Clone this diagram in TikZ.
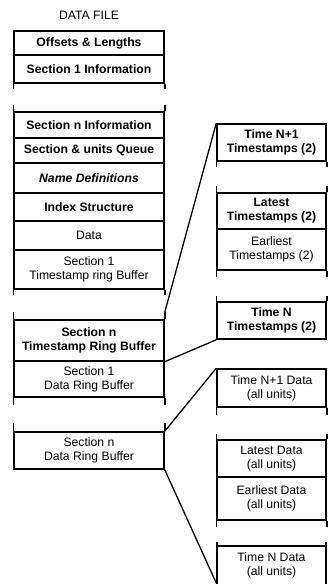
\documentclass[tikz,border=0pt]{standalone}
\usepackage{fontspec}
\setmainfont{Liberation Sans}
\usetikzlibrary{calc}
\begin{document}
\begin{tikzpicture}[x=1pt,y=-1pt,
  every node/.style={font=\fontsize{12.2}{14}\selectfont},
  lbox/.style={draw,line width=1.5pt,minimum width=150pt,inner sep=0pt,align=center},
  rbox/.style={draw,line width=1.5pt,minimum width=109pt,inner sep=0pt,align=center},
  heavy/.style={font=\fontsize{12.2}{14}\selectfont\bfseries},
  tick/.style={line width=1.5pt},
  link/.style={line width=1.3pt}]
\useasboundingbox (0,0) rectangle (331,584);
% title
\node (title) at (89,15) {DATA FILE};
% left column
\node[lbox,heavy,minimum height=24pt] (off)  at (89,43)    {Offsets \& Lengths};
\node[lbox,heavy,minimum height=28pt] (s1i)  at (89,69)    {Section 1 Information};
\node[lbox,heavy,minimum height=26pt] (sni)  at (89,125)   {Section n Information};
\node[lbox,heavy,minimum height=25pt] (suq)  at (89,150.5) {Section \& units Queue};
\node[lbox,minimum height=30pt,font=\fontsize{12.2}{14}\selectfont\bfseries\itshape] (nd) at (89,178) {Name Definitions};
\node[lbox,heavy,minimum height=28pt] (idx)  at (89,207)   {Index Structure};
\node[lbox,minimum height=29pt]       (dat)  at (89,235.5) {Data};
\node[lbox,minimum height=39pt]       (s1ts) at (89,269.5) {Section 1\\Timestamp ring Buffer};
\node[lbox,heavy,minimum height=41pt] (snts) at (89,340.5) {Section n\\Timestamp Ring Buffer};
\node[lbox,minimum height=36pt]       (s1d)  at (89,379)   {Section 1\\Data Ring Buffer};
\node[lbox,minimum height=37pt]       (snd)  at (89,450.5) {Section n\\Data Ring Buffer};
% left gap ticks
\draw[tick] (s1i.south west) -- ++(0,5);
\draw[tick] (s1i.south east) -- ++(0,5);
\draw[tick] (sni.north west) -- ++(0,-6);
\draw[tick] (sni.north east) -- ++(0,-6);
\draw[tick] (s1ts.south west) -- ++(0,5);
\draw[tick] (s1ts.south east) -- ++(0,5);
\draw[tick] (snts.north west) -- ++(0,-7);
\draw[tick] (snts.north east) -- ++(0,-7) coordinate (c1);
\draw[tick] (s1d.south west) -- ++(0,7);
\draw[tick] (s1d.south east) -- ++(0,7);
\draw[tick] (snd.north west) -- ++(0,-8);
\draw[tick] (snd.north east) -- ++(0,-8);
% right column
\node[rbox,heavy,minimum height=37pt] (tn1)  at (271.5,142.5) {Time N+1\\Timestamps (2)};
\node[rbox,heavy,minimum height=36pt] (lts)  at (271.5,211)   {Latest\\Timestamps (2)};
\node[rbox,minimum height=41pt]       (ets)  at (271.5,249.5) {Earliest\\Timestamps (2)};
\node[rbox,heavy,minimum height=37pt] (tnts) at (271.5,320.5) {Time N\\Timestamps (2)};
\node[rbox,minimum height=38pt]       (tn1d) at (271.5,388)   {Time N+1 Data\\(all units)};
\node[rbox,minimum height=37pt]       (ld)   at (271.5,458.5) {Latest Data\\(all units)};
\node[rbox,minimum height=43pt]       (ed)   at (271.5,498.5) {Earliest Data\\(all units)};
\node[minimum width=109pt,minimum height=38pt,inner sep=0pt,align=center] (tnd) at (271.5,565) {Time N Data\\(all units)};
\draw[tick] (tnd.south west) -- (tnd.north west) -- (tnd.north east) -- (tnd.south east);
% right ticks
\draw[tick] (tn1.south west) -- ++(0,5);
\draw[tick] (tn1.south east) -- ++(0,5);
\draw[tick] (lts.north west) -- ++(0,-6);
\draw[tick] (lts.north east) -- ++(0,-6);
\draw[tick] (ets.south west) -- ++(0,6);
\draw[tick] (ets.south east) -- ++(0,6);
\draw[tick] (tnts.north west) -- ++(0,-5);
\draw[tick] (tnts.north east) -- ++(0,-5);
\draw[tick] (tn1d.south west) -- ++(0,7);
\draw[tick] (tn1d.south east) -- ++(0,7);
\draw[tick] (ld.north west) -- ++(0,-5);
\draw[tick] (ld.north east) -- ++(0,-5);
\draw[tick] (ed.south west) -- ++(0,6);
\draw[tick] (ed.south east) -- ++(0,6);
\draw[tick] (tnd.north west) -- ++(0,-4);
\draw[tick] (tnd.north east) -- ++(0,-4);
% connectors
\draw[link] (c1) -- (tn1.north west);
\draw[link] (snts.south east) -- (tnts.south west);
\draw[link] (snd.north east) -- (tn1d.north west);
\draw[link] (snd.south east) -- (tnd.south west);
\end{tikzpicture}
\end{document}
